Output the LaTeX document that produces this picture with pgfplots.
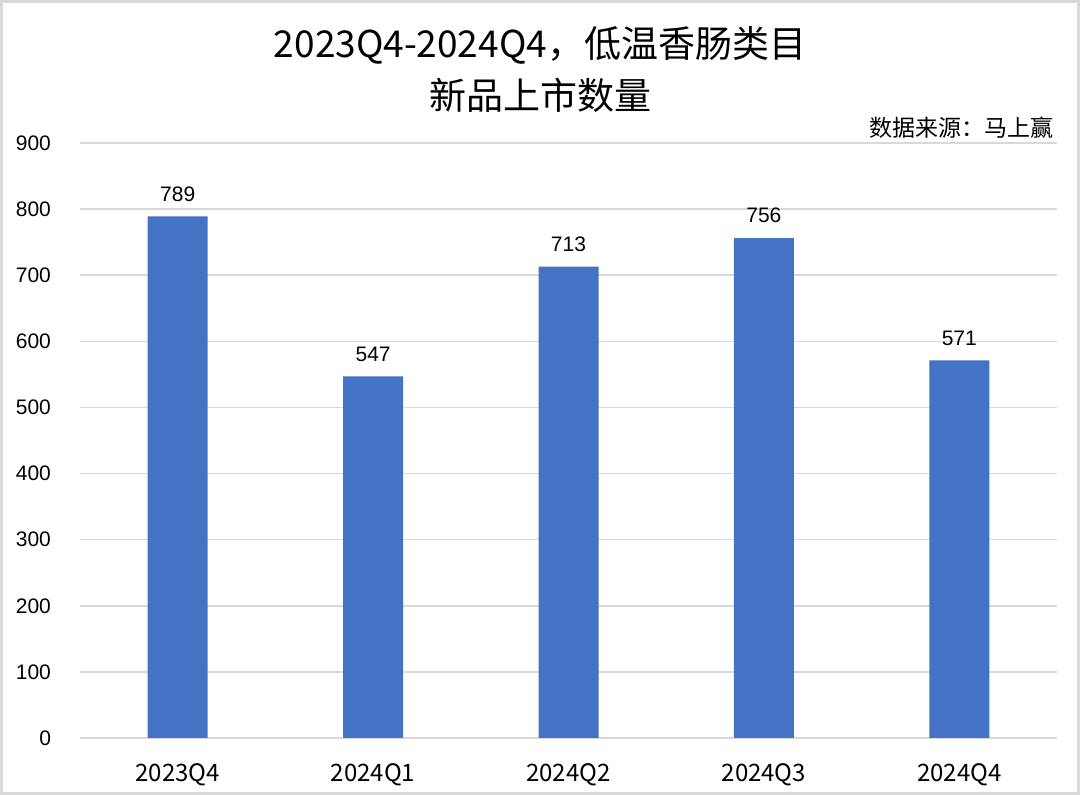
\documentclass[border=0pt]{standalone}
\usepackage{fontspec}
\setmainfont{Liberation Sans}
\newfontfamily\cjk{Noto Sans CJK SC}
\usepackage{pgfplots}
\pgfplotsset{compat=1.18}
\definecolor{barblue}{HTML}{4472C4}
\definecolor{gridgray}{HTML}{D9D9D9}
\begin{document}
\begin{tikzpicture}
% outer frame of the image (1px = 0.5pt)
\draw[gridgray, line width=1.5pt] (-39.25pt,-27.75pt) rectangle (499.25pt,368.25pt);
\begin{axis}[
    scale only axis,
    width=488.5pt,
    height=297.5pt,
    xmin=-0.5, xmax=4.5,
    ymin=0, ymax=900,
    ytick={0,100,...,900},
    xtick=data,
    xticklabels={2023Q4,2024Q1,2024Q2,2024Q3,2024Q4},
    xticklabel style={font=\cjk\fontsize{12}{14}\selectfont, yshift=-5pt},
    yticklabel style={font=\fontsize{10.5}{12}\selectfont, xshift=-11pt},
    /pgf/number format/assume math mode=true,
    axis line style={draw=none},
    major tick style={draw=none},
    ymajorgrids,
    grid style={gridgray, line width=0.75pt},
    ybar,
    bar width=30pt,
    nodes near coords,
    every node near coord/.append style={font=\fontsize{10.5}{12}\selectfont, yshift=4pt},
]
\addplot[fill=barblue, draw=none] coordinates {
    (0,789) (1,547) (2,713) (3,756) (4,571)
};
\end{axis}
\node[font=\cjk\fontsize{18.5}{22}\selectfont] at (230pt,346.5pt) {2023Q4-2024Q4，低温香肠类目};
\node[font=\cjk\fontsize{18.5}{22}\selectfont] at (230pt,321.5pt) {新品上市数量};
\node[font=\cjk\fontsize{11.5}{14}\selectfont, anchor=east] at (490.5pt,305pt) {数据来源：马上赢};
\end{tikzpicture}
\end{document}
